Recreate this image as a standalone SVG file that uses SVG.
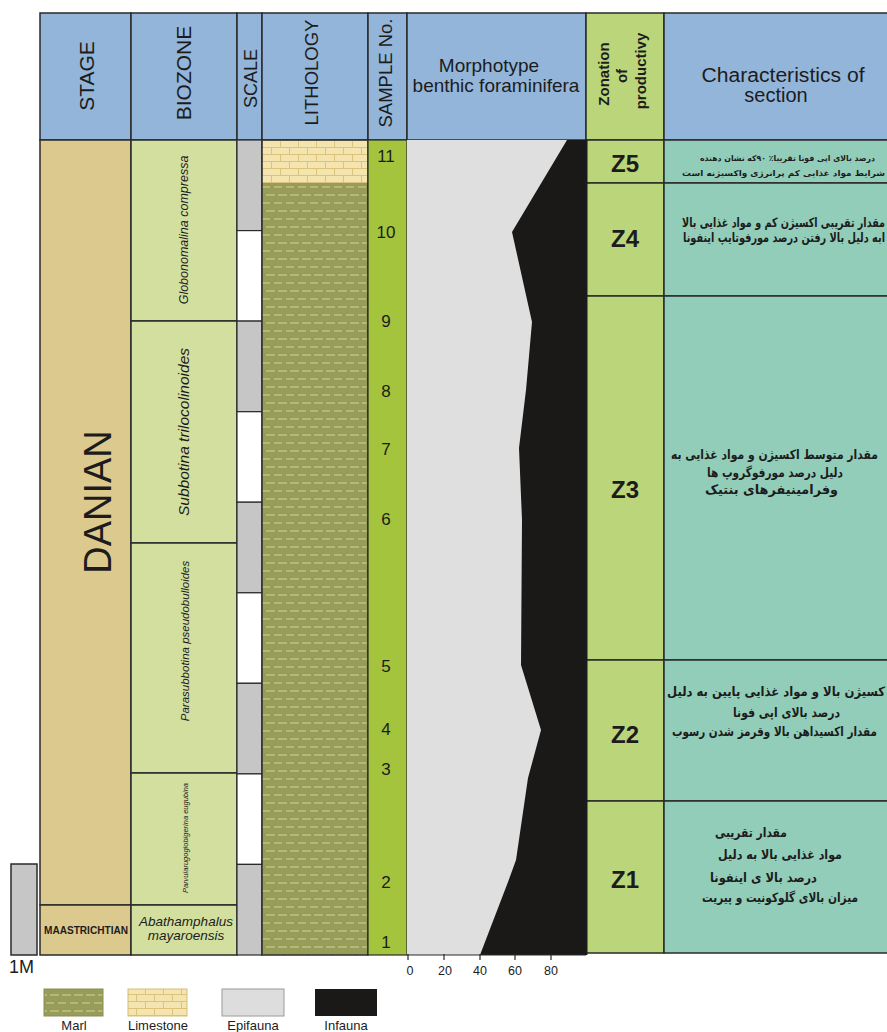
<svg xmlns="http://www.w3.org/2000/svg" width="887" height="1032" viewBox="0 0 887 1032">
<defs>
<style>
.ln{stroke:#2a2a2a;stroke-width:1.5;fill:none}
.hd{fill:#93B5D9;stroke:#2a2a2a;stroke-width:1.5}
.t{font-family:"Liberation Sans",Arial,sans-serif;fill:#1c1c1c}
.it{font-family:"Liberation Sans",Arial,sans-serif;font-style:italic;fill:#1c1c1c}
.b{font-family:"Liberation Sans",Arial,sans-serif;font-weight:bold;fill:#1c1c1c}
.fa{font-family:"DejaVu Sans","Noto Sans",sans-serif;font-weight:bold;fill:#1c1c1c}
.gray{fill:#C6C6C6;stroke:#2a2a2a;stroke-width:1.2}
.white{fill:#ffffff;stroke:#2a2a2a;stroke-width:1.2}
</style>
<pattern id="marl" patternUnits="userSpaceOnUse" x="262" y="183" width="12" height="16">
<rect width="12" height="16" fill="#979C58"/>
<path d="M0 4h8M4 12h8M0 12h1" stroke="#D0D296" stroke-width="1.1"/>
</pattern>
<pattern id="lime" patternUnits="userSpaceOnUse" x="262" y="140" width="18" height="14">
<rect width="18" height="14" fill="#F3E4B0"/>
<path d="M0 0.5h18M0 7.5h18M0.5 0v7M9.5 7v7" stroke="#DCC27A" stroke-width="1"/>
</pattern>
</defs>
<rect width="887" height="1032" fill="#ffffff"/>

<g id="header">
<rect class="hd" x="40" y="13" width="91" height="127"/>
<rect class="hd" x="131" y="13" width="106" height="127"/>
<rect class="hd" x="237" y="13" width="25" height="127"/>
<rect class="hd" x="262" y="13" width="106" height="127"/>
<rect class="hd" x="368" y="13" width="39" height="127"/>
<rect class="hd" x="407" y="13" width="179" height="127"/>
<rect x="586" y="13" width="78" height="127" fill="#BBD57A" stroke="#2a2a2a" stroke-width="1.5"/>
<rect class="hd" x="664" y="13" width="230" height="127"/>
<text class="t" font-size="21" text-anchor="middle" transform="translate(93.5,76) rotate(-90)">STAGE</text>
<text class="t" font-size="21" text-anchor="middle" transform="translate(190.5,73) rotate(-90)">BIOZONE</text>
<text class="t" font-size="18" text-anchor="middle" transform="translate(256.5,78.5) rotate(-90)">SCALE</text>
<text class="t" font-size="18.5" text-anchor="middle" transform="translate(318,72.5) rotate(-90)">LITHOLOGY</text>
<text class="t" font-size="18.5" text-anchor="middle" transform="translate(392,73) rotate(-90)">SAMPLE No.</text>
<text class="t" font-size="19" text-anchor="middle" x="489" y="71.5">Morphotype</text>
<text class="t" font-size="19" text-anchor="middle" x="496" y="91.5">benthic foraminifera</text>
<text class="b" font-size="15" text-anchor="middle" transform="translate(608.5,74) rotate(-90)">Zonation</text>
<text class="b" font-size="15" text-anchor="middle" transform="translate(627,76) rotate(-90)">of</text>
<text class="b" font-size="15" text-anchor="middle" transform="translate(646,71) rotate(-90)">productivy</text>
<text class="t" font-size="20" text-anchor="middle" x="783" y="81.5" textLength="163" lengthAdjust="spacingAndGlyphs">Characteristics of</text>
<text class="t" font-size="20" text-anchor="middle" x="776" y="102">section</text>
</g>

<g id="stage">
<rect x="40" y="140" width="91" height="765" class="ln" style="fill:#DCC98D"/>
<rect x="40" y="905" width="91" height="50" class="ln" style="fill:#DCC98D"/>
<text class="t" font-size="38" text-anchor="middle" transform="translate(111,502) rotate(-90)">DANIAN</text>
<text class="b" font-size="10" x="44" y="933.5" textLength="84" lengthAdjust="spacingAndGlyphs">MAASTRICHTIAN</text>
</g>

<g id="biozone">
<rect x="131" y="140" width="106" height="181" class="ln" style="fill:#D3DF9F"/>
<rect x="131" y="321" width="106" height="222" class="ln" style="fill:#D3DF9F"/>
<rect x="131" y="543" width="106" height="230" class="ln" style="fill:#D3DF9F"/>
<rect x="131" y="773" width="106" height="132" class="ln" style="fill:#D3DF9F"/>
<rect x="131" y="905" width="106" height="50" class="ln" style="fill:#D3DF9F"/>
<text class="it" font-size="12.5" text-anchor="middle" transform="translate(188,230) rotate(-90)">Globonomalina compressa</text>
<text class="it" font-size="15.5" text-anchor="middle" transform="translate(189,432) rotate(-90)">Subbotina trilocolinoides</text>
<text class="it" font-size="11.5" text-anchor="middle" transform="translate(188.5,641) rotate(-90)">Parasubbotina pseudobulloides</text>
<text class="it" font-size="7.5" text-anchor="middle" transform="translate(187.5,838) rotate(-90)">Parvularugoglobigerina eugubina</text>
<text class="it" font-size="13.5" text-anchor="middle" x="186" y="925.5">Abathamphalus</text>
<text class="it" font-size="13.5" text-anchor="middle" x="186" y="939.5">mayaroensis</text>
</g>

<g id="scale">
<rect class="gray" x="237" y="140" width="25" height="90.6"/>
<rect class="white" x="237" y="230.6" width="25" height="90.5"/>
<rect class="gray" x="237" y="321.1" width="25" height="90.6"/>
<rect class="white" x="237" y="411.7" width="25" height="90.5"/>
<rect class="gray" x="237" y="502.2" width="25" height="90.6"/>
<rect class="white" x="237" y="592.8" width="25" height="90.5"/>
<rect class="gray" x="237" y="683.3" width="25" height="90.6"/>
<rect class="white" x="237" y="773.9" width="25" height="90.5"/>
<rect class="gray" x="237" y="864.4" width="25" height="90.6"/>
<rect x="11" y="864" width="26" height="91" fill="#C6C6C6" stroke="#2a2a2a" stroke-width="1.5"/>
<text class="t" font-size="18" x="9" y="973">1M</text>
</g>

<g id="lithology">
<rect x="262" y="140" width="106" height="43" fill="url(#lime)"/>
<rect x="262" y="183" width="106" height="772" fill="url(#marl)"/>
<rect x="262" y="140" width="106" height="815" class="ln"/>
</g>

<g id="samples">
<rect x="368" y="140" width="39" height="815" fill="#A3C43C" stroke="#2a2a2a" stroke-width="1.2"/>
<g class="t" font-size="17" text-anchor="middle">
<text x="386" y="162">11</text>
<text x="386" y="238">10</text>
<text x="386" y="327">9</text>
<text x="386" y="397">8</text>
<text x="386" y="455">7</text>
<text x="386" y="525">6</text>
<text x="386" y="672">5</text>
<text x="386" y="735">4</text>
<text x="386" y="775">3</text>
<text x="386" y="888">2</text>
<text x="386" y="948">1</text>
</g>
</g>

<g id="morphotype">
<rect x="407" y="140" width="179" height="815" fill="#DFDFDF"/>
<polygon points="567,140 586,140 586,955 480,955 508,882 516,860 528,778 541,730 521,665 522,520 519,448 526,390 532,322 512,232" fill="#1B1918"/>
<line x1="407" y1="955" x2="586" y2="955" stroke="#2a2a2a" stroke-width="1.2"/>
<path d="M408 954v6M444 954v6M480 954v6M515 954v6M551 954v6" stroke="#2a2a2a" stroke-width="1.2"/>
<g class="t" font-size="12.5" text-anchor="middle">
<text x="410" y="975">0</text>
<text x="445" y="975">20</text>
<text x="480" y="975">40</text>
<text x="515" y="975">60</text>
<text x="551" y="975">80</text>
</g>
</g>

<g id="zonation">
<rect x="586" y="140" width="78" height="43" class="ln" style="fill:#BBD57A"/>
<rect x="586" y="183" width="78" height="113" class="ln" style="fill:#BBD57A"/>
<rect x="586" y="296" width="78" height="364" class="ln" style="fill:#BBD57A"/>
<rect x="586" y="660" width="78" height="141" class="ln" style="fill:#BBD57A"/>
<rect x="586" y="801" width="78" height="152" class="ln" style="fill:#BBD57A"/>
<line x1="586" y1="140" x2="586" y2="955" stroke="#1a1a1a" stroke-width="3"/>
<g class="b" font-size="24" text-anchor="middle">
<text x="625" y="172">Z5</text>
<text x="625" y="247">Z4</text>
<text x="625" y="498">Z3</text>
<text x="625" y="743">Z2</text>
<text x="625" y="888">Z1</text>
</g>
</g>

<g id="characteristics">
<rect x="664" y="140" width="230" height="43" class="ln" style="fill:#92CDB9"/>
<rect x="664" y="183" width="230" height="113" class="ln" style="fill:#92CDB9"/>
<rect x="664" y="296" width="230" height="364" class="ln" style="fill:#92CDB9"/>
<rect x="664" y="660" width="230" height="141" class="ln" style="fill:#92CDB9"/>
<rect x="664" y="801" width="230" height="152" class="ln" style="fill:#92CDB9"/>
<g class="fa" font-size="13">
<text font-size="8" x="700" y="161" textLength="175" lengthAdjust="spacingAndGlyphs">درصد بالای اپی فونا تقریبا٪ ۹۰که نشان دهنده</text>
<text font-size="8" x="682" y="176" textLength="203" lengthAdjust="spacingAndGlyphs">شرایط مواد غذایی کم پرانرژی واکسیژنه است</text>
<text x="682" y="227" textLength="203" lengthAdjust="spacingAndGlyphs">مقدار تقریبی اکسیژن کم و مواد غذایی بالا</text>
<text x="683" y="242" textLength="202" lengthAdjust="spacingAndGlyphs">ابه دلیل بالا رفتن درصد مورفوتایپ اینفونا</text>
<text x="671" y="459" textLength="207" lengthAdjust="spacingAndGlyphs">مقدار متوسط اکسیژن  و مواد غذایی به</text>
<text x="707" y="477" textLength="136" lengthAdjust="spacingAndGlyphs">دلیل درصد مورفوگروپ ها</text>
<text x="705" y="494" textLength="133" lengthAdjust="spacingAndGlyphs">وفرامینیفرهای بنتیک</text>
<text x="667" y="696" textLength="218" lengthAdjust="spacingAndGlyphs">کسیژن بالا  و مواد غذایی پایین به دلیل</text>
<text x="733" y="717" textLength="107" lengthAdjust="spacingAndGlyphs">درصد بالای اپی فونا</text>
<text x="672" y="736" textLength="205" lengthAdjust="spacingAndGlyphs">مقدار اکسیداهن بالا وقرمز شدن رسوب</text>
<text x="715" y="837" textLength="72" lengthAdjust="spacingAndGlyphs">مقدار تقریبی</text>
<text x="718" y="859" textLength="124" lengthAdjust="spacingAndGlyphs">مواد غذایی بالا به دلیل</text>
<text x="710" y="882" textLength="107" lengthAdjust="spacingAndGlyphs">درصد بالا ی اینفونا</text>
<text x="702" y="902" textLength="156" lengthAdjust="spacingAndGlyphs">میزان بالای گلوکونیت و پیریت</text>
</g>
</g>

<g id="legend">
<rect x="44" y="989" width="59" height="27" fill="url(#marl)" stroke="#8A8E55" stroke-width="1"/>
<rect x="128" y="989" width="59" height="27" fill="url(#lime)" stroke="#D8BE78" stroke-width="1"/>
<rect x="222" y="989" width="62" height="27" fill="#DDDDDD" stroke="#9a9a9a" stroke-width="1"/>
<rect x="315" y="989" width="62" height="27" fill="#1B1918"/>
<g class="t" font-size="13" text-anchor="middle" fill="#333">
<text x="74" y="1030">Marl</text>
<text x="158" y="1030">Limestone</text>
<text x="253" y="1030">Epifauna</text>
<text x="346" y="1030">Infauna</text>
</g>
</g>
</svg>
